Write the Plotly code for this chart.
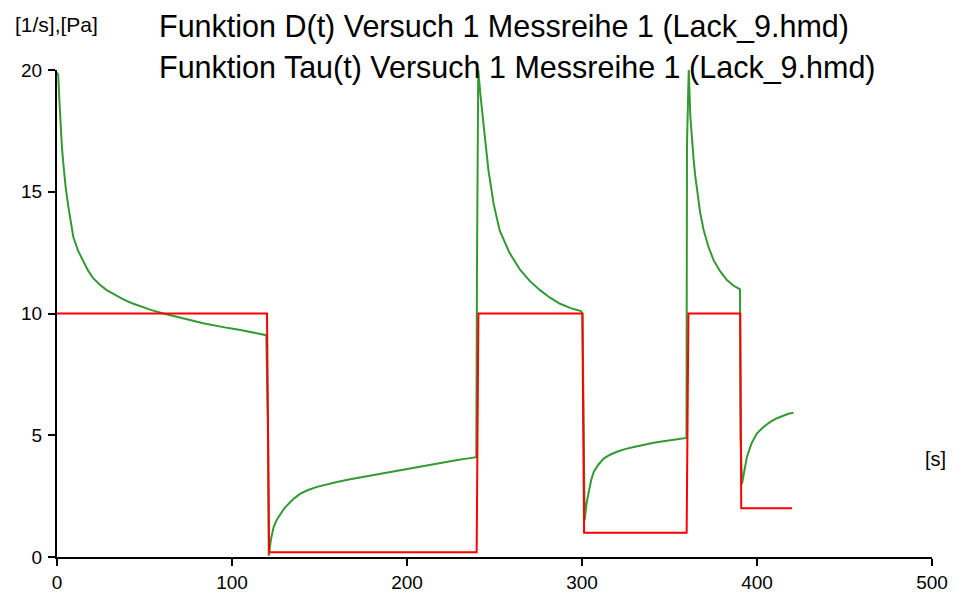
import plotly.graph_objects as go

# Shear rate D(t) [1/s] (green)
t_D = [0, 0.7, 1.4, 2.1, 2.8, 3.6, 5.0, 6.5, 7.9, 9.3, 12.0, 15.1, 17.8, 20.8, 24.5, 28.4, 33.0, 37.9,
       42.5, 47.5, 54.0, 60.8, 68.0, 76, 83.5, 91.3, 98.0, 104.8, 112.0, 119.6,
       120.6, 121.0, 122.3, 123.8, 125.6, 127.7, 129.9, 132.4, 135.5, 139.1, 143.5, 148.6, 154.0,
       160, 167.5, 175.2, 185.0, 194.3, 204.0, 213.4, 221.0, 228, 234.0, 239.6,
       240.0, 240.7, 242.0, 243.4, 244.9, 246.5, 249.5, 253, 258.5, 264.6, 270.0, 276, 281.5,
       287.5, 293.5, 299.4, 300.3,
       301.5, 302.6, 303.9, 305.2, 306.7, 309.4, 312.4, 316.0, 320, 324.5, 329.6, 335.0, 341,
       346.5, 352.5, 356.5, 359.7,
       360.0, 361.0, 361.9, 362.8, 363.8, 364.7, 365.7, 367.5, 369.5, 372.2, 375.2, 378.8,
       382.8, 386.5, 390.3,
       390.6, 391.4, 392.7, 394.2, 396.8, 399.9, 403.5, 407.6, 411.4, 415.2, 418.0, 420.9]
D = [19.9, 19.8, 18.7, 17.67, 16.85, 16.17, 15.15, 14.38, 13.72, 13.15, 12.58, 12.12, 11.76, 11.44,
     11.18, 10.96, 10.76, 10.58, 10.43, 10.3, 10.14, 10.0, 9.86, 9.73, 9.6, 9.48, 9.4, 9.32, 9.22, 9.11,
     5.0, 0.05, 0.75, 1.23, 1.53, 1.78, 2.0, 2.19, 2.41, 2.6, 2.75, 2.88, 2.98,
     3.08, 3.19, 3.29, 3.43, 3.56, 3.68, 3.8, 3.89, 3.97, 4.04, 4.1,
     12.0, 20.0, 18.95, 17.95, 16.85, 15.9, 14.5, 13.4, 12.5, 11.8, 11.35, 10.96, 10.66,
     10.4, 10.22, 10.1, 10.0,
     1.5, 2.2, 2.74, 3.15, 3.49, 3.8, 4.04, 4.2, 4.32, 4.43, 4.52, 4.61, 4.69,
     4.75, 4.8, 4.85, 4.89,
     17.0, 20.0, 18.1, 17.1, 16.3, 15.65, 15.07, 14.15, 13.43, 12.75, 12.19, 11.75,
     11.37, 11.15, 10.99,
     5.0, 3.0, 3.6, 4.1, 4.65, 5.07, 5.33, 5.55, 5.7, 5.82, 5.88, 5.93]

# Shear stress Tau(t) [Pa] (red)
t_tau = [0, 120, 121.2, 239.8, 240.8, 300.2, 301.2, 359.8, 360.8, 390.4, 391.0, 420]
tau = [10, 10, 0.2, 0.2, 10, 10, 1, 1, 10, 10, 2, 2]

title_D = "Funktion D(t) Versuch 1 Messreihe 1 (Lack_9.hmd)"
title_tau = "Funktion Tau(t) Versuch 1 Messreihe 1 (Lack_9.hmd)"
y_label = "[1/s],[Pa]"
x_label = "[s]"

FONT = "Liberation Sans, Arial, sans-serif"

fig = go.Figure()
fig.add_trace(go.Scatter(x=t_D, y=D, mode="lines", name=title_D,
                         line=dict(color="rgb(51,153,51)", width=2)))
fig.add_trace(go.Scatter(x=t_tau, y=tau, mode="lines", name=title_tau,
                         line=dict(color="rgb(255,0,0)", width=2)))

W, H = 956, 597
L, R, T, B = 57, 24, 70, 40
pw, ph = W - L - R, H - T - B

def px(xp):
    return (xp - L) / pw

def py(yp):
    return (H - B - yp) / ph

axis_common = dict(showgrid=False, zeroline=False, showline=True, linecolor="black",
                   linewidth=2, ticks="outside", ticklen=7, tickwidth=2, tickcolor="black",
                   automargin=False,
                   tickfont=dict(size=19, family=FONT, color="black"))

fig.update_layout(
    width=W, height=H,
    margin=dict(l=L, r=R, t=T, b=B, autoexpand=False),
    paper_bgcolor="white", plot_bgcolor="white",
    showlegend=False,
    font=dict(family=FONT, color="black"),
    xaxis=dict(range=[0, 500], tickvals=[0, 100, 200, 300, 400, 500], **axis_common),
    yaxis=dict(range=[0, 20], tickvals=[0, 5, 10, 15, 20], ticklabelstandoff=2, **axis_common),
    annotations=[
        dict(text=title_D, xref="paper", yref="paper", x=px(157), y=py(27),
             xanchor="left", yanchor="middle", showarrow=False,
             font=dict(size=30.5, family=FONT, color="black")),
        dict(text=title_tau, xref="paper", yref="paper", x=px(157), y=py(67),
             xanchor="left", yanchor="middle", showarrow=False,
             font=dict(size=30.5, family=FONT, color="black")),
        dict(text=y_label, xref="paper", yref="paper", x=px(13), y=py(24),
             xanchor="left", yanchor="middle", showarrow=False,
             font=dict(size=21, family=FONT, color="black")),
        dict(text=x_label, xref="paper", yref="paper", x=px(923), y=py(459),
             xanchor="left", yanchor="middle", showarrow=False,
             font=dict(size=20, family=FONT, color="black")),
    ],
)

fig.write_html("out.html")
